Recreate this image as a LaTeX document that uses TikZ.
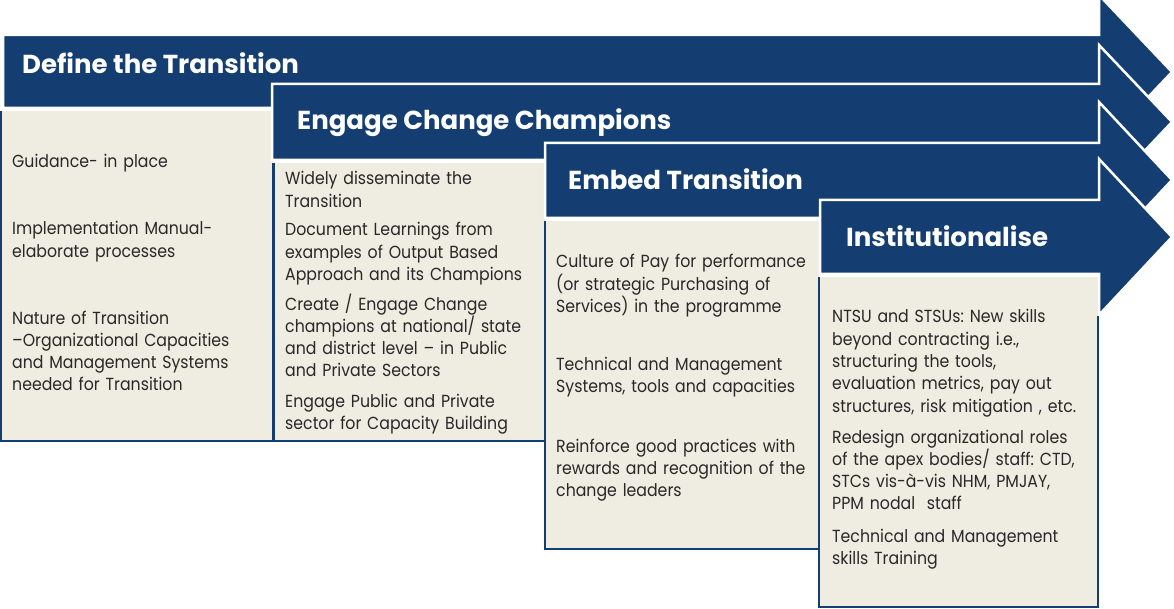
\documentclass[tikz,border=0pt]{standalone}
\usepackage{fontspec}
\setmainfont{Poppins}[FakeStretch=0.9]
\newfontfamily\titlefont{Poppins}
\frenchspacing
\definecolor{navy}{RGB}{20,62,114}
\definecolor{beige}{RGB}{239,236,226}
\definecolor{txt}{RGB}{40,40,40}
\tikzset{
  stagearrow/.style={fill=navy, draw=white, line width=2.5pt, line join=miter},
  boxfill/.style={fill=beige},
  boxedge/.style={draw=navy, line width=2.2pt},
  title/.style={anchor=base west, inner sep=0pt, text=white, font=\titlefont\fontsize{26}{30}\selectfont\bfseries},
  body/.style={anchor=base west, inner sep=0pt, text=txt, text width=285pt, align=left, font=\fontsize{17.5}{22.3}\selectfont\frenchspacing},
}
\begin{document}
\begin{tikzpicture}[x=1pt,y=-1pt]
\useasboundingbox (0,0) rectangle (1174,609);
% stage 1
\path[stagearrow] (3,35) -- (1099,35) -- (1099,-5) -- (1172,72) -- (1099,149) -- (1099,108) -- (3,108) -- cycle;
\path[boxfill] (1,111) rectangle (273,441);
\path[boxedge] (1,111) -- (1,441) -- (273,441) -- (273,163);
% stage 2
\path[stagearrow] (272,84) -- (1099,84) -- (1099,45) -- (1172,122) -- (1099,199) -- (1099,160) -- (272,160) -- cycle;
\path[boxfill] (274,163) rectangle (545,441);
\path[boxedge] (274,163) -- (274,441) -- (545,441) -- (545,221);
% stage 3
\path[stagearrow] (545,143) -- (1099,143) -- (1099,102) -- (1172,180) -- (1099,258) -- (1099,218) -- (545,218) -- cycle;
\path[boxfill] (545,221) rectangle (819,549);
\path[boxedge] (545,221) -- (545,549) -- (819,549) -- (819,278);
% stage 4
\path[stagearrow] (820,200) -- (1099,200) -- (1099,159) -- (1172,237) -- (1099,315) -- (1099,274) -- (820,274) -- cycle;
\path[boxfill] (819,277) rectangle (1098,607);
\path[boxedge] (819,277) -- (819,607) -- (1098,607) -- (1098,316);

% titles
\node[title] (t1) at (22,74) {Define the Transition};
\node[title] (t2) at (297,130) {Engage Change Champions};
\node[title] (t3) at (568,190) {Embed Transition};
\node[title] (t4) at (846,247) {Institutionalise};

% box 1
\node[body] (a1) at (12,168) {Guidance- in place};
\node[body] (a2) at (12,235) {Implementation Manual-\\elaborate processes};
\node[body] (a3) at (12,324) {Nature of Transition\\–Organizational Capacities\\and Management Systems\\needed for Transition};
% box 2
\node[body] (b1) at (285,185) {Widely disseminate the\\Transition};
\node[body] (b2) at (285,236) {Document Learnings from\\examples of Output Based\\Approach and its Champions};
\node[body] (b3) at (285,310) {Create / Engage Change\\champions at national/ state\\and district level – in Public\\and Private Sectors};
\node[body] (b4) at (285,407) {Engage Public and Private\\sector for Capacity Building};
% box 3
\node[body] (c1) at (556,268) {Culture of Pay for performance\\(or strategic Purchasing of\\Services) in the programme};
\node[body] (c2) at (556,370) {Technical and Management\\Systems, tools and capacities};
\node[body] (c3) at (556,452) {Reinforce good practices with\\rewards and recognition of the\\change leaders};
% box 4
\node[body] (d1) at (832,323) {NTSU and STSUs: New skills\\beyond contracting i.e.,\\structuring the tools,\\evaluation metrics, pay out\\structures, risk mitigation , etc.};
\node[body] (d2) at (832,443) {Redesign organizational roles\\of the apex bodies/ staff: CTD,\\STCs vis-à-vis NHM, PMJAY,\\PPM nodal\ \ staff};
\node[body] (d3) at (832,542) {Technical and Management\\skills Training};
\end{tikzpicture}
\end{document}
